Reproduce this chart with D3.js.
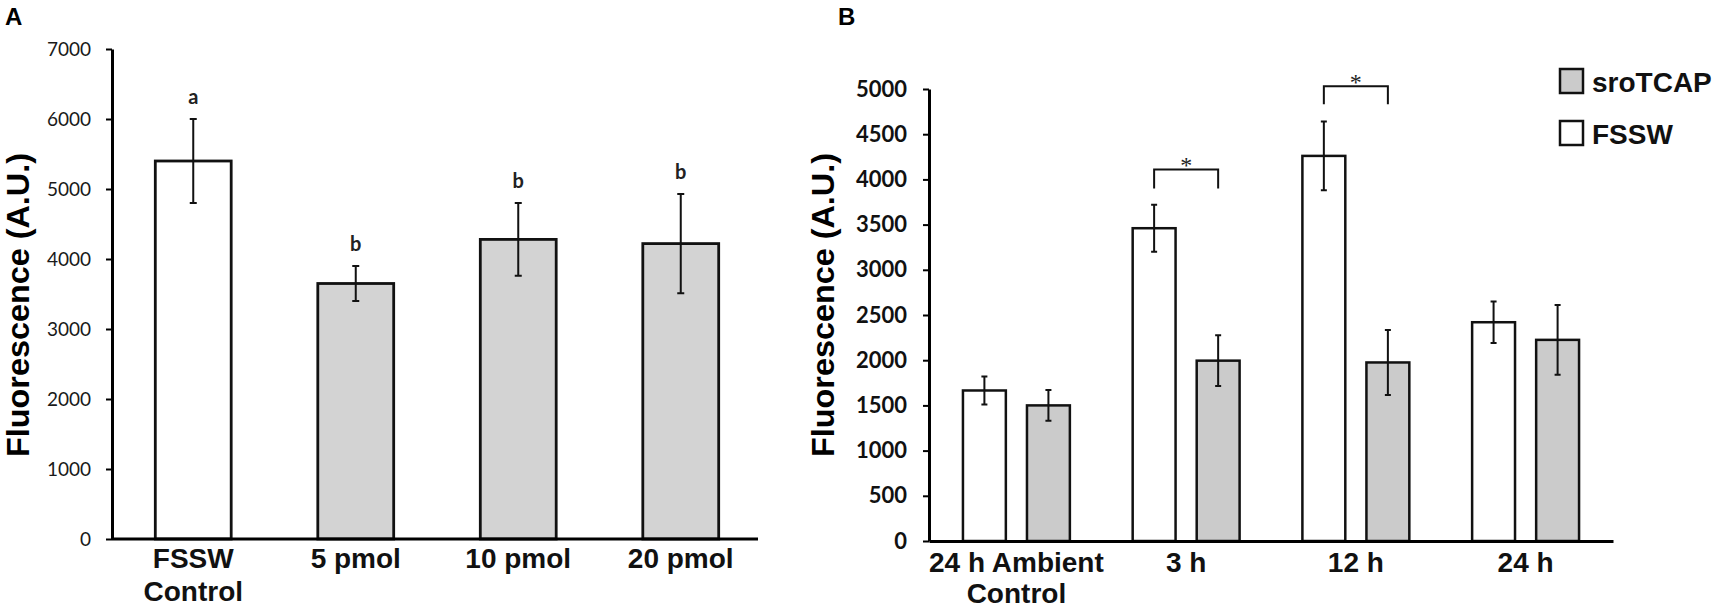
<!DOCTYPE html>
<html>
<head>
<meta charset="utf-8">
<script src="https://cdn.jsdelivr.net/npm/d3@7/dist/d3.min.js"></script>
<style>
    body { margin: 0; background: #fff; }
    svg { display: block; }
</style>
</head>
<body>
<div id="chart"></div>
<script>
// panel A - fluorescence by dose
const aCategories = ["FSSW\nControl", "5 pmol", "10 pmol", "20 pmol"];
const aValues = [5400, 3650, 4280, 4220];
const aErrors = [600, 250, 520, 710];
const aLetters = ["a", "b", "b", "b"];
const aTicks = [0, 1000, 2000, 3000, 4000, 5000, 6000, 7000];

// panel B - time course
const bGroups = ["24 h Ambient\nControl", "3 h", "12 h", "24 h"];
const bSeries = ["FSSW", "sroTCAP"];
const bFSSW = [1665, 3460, 4260, 2420];
const bFSSWErr = [155, 260, 380, 230];
const bSroTCAP = [1500, 1995, 1975, 2225];
const bSroTCAPErr = [170, 280, 360, 385];
const bTicks = [0, 500, 1000, 1500, 2000, 2500, 3000, 3500, 4000, 4500, 5000];
const sigGroups = ["3 h", "12 h"];
const sigTop = [4110, 5030];
const sigLeg = [3900, 4830];
const legendLabels = ["sroTCAP", "FSSW"];

const WIDTH = 1716;
const HEIGHT = 607;
const ARIAL = "'Liberation Sans', Arial, sans-serif";
const CALIBRI = "Lato, 'Open Sans', sans-serif";
const GREY_A = "#d3d3d3";
const GREY_B = "#cbcbcb";

const svg = d3.select("#chart").append("svg")
    .attr("width", WIDTH)
    .attr("height", HEIGHT);

function multiline(sel, lineGap) {
    sel.each(function (d) {
        let t = d3.select(this);
        let lines = d.split("\n");
        t.text(null);
        lines.forEach((l, i) => {
            t.append("tspan")
                .attr("x", t.attr("x"))
                .attr("dy", i === 0 ? 0 : lineGap)
                .text(l);
        });
    });
}

function yTitle(x, cy) {
    svg.append("text")
        .attr("transform", "translate(" + x + "," + cy + ") rotate(-90)")
        .attr("text-anchor", "middle")
        .attr("font-family", ARIAL)
        .attr("font-weight", "bold")
        .attr("font-size", 32)
        .attr("textLength", 304)
        .attr("lengthAdjust", "spacingAndGlyphs")
        .text("Fluorescence (A.U.)");
}

function errorBars(g, data, cap) {
    g.selectAll(".err")
        .data(data)
        .enter().append("path")
        .attr("class", "err")
        .attr("fill", "none")
        .attr("stroke", "#111")
        .attr("stroke-width", 2)
        .attr("d", d => "M" + (d.x - cap) + "," + d.y0 + "H" + (d.x + cap) +
            "M" + d.x + "," + d.y0 + "V" + d.y1 +
            "M" + (d.x - cap) + "," + d.y1 + "H" + (d.x + cap));
}

// ---------- A ----------
const xA = d3.scaleBand()
    .domain(aCategories)
    .range([112, 762])
    .paddingInner(0.533)
    .paddingOuter(0.2665);

const yA = d3.scaleLinear()
    .domain([0, 7000])
    .range([539, 49]);

svg.append("text")
    .attr("x", 5).attr("y", 25)
    .attr("font-family", ARIAL)
    .attr("font-weight", "bold")
    .attr("font-size", 24)
    .text("A");

const gA = svg.append("g");

gA.selectAll(".bar")
    .data(aValues)
    .enter().append("rect")
    .attr("class", "bar")
    .attr("x", (d, i) => xA(aCategories[i]))
    .attr("y", d => yA(d))
    .attr("width", xA.bandwidth())
    .attr("height", d => yA(0) - yA(d))
    .attr("fill", (d, i) => i === 0 ? "#fff" : GREY_A)
    .attr("stroke", "#111")
    .attr("stroke-width", 2.8);

errorBars(gA, aValues.map((v, i) => ({
    x: xA(aCategories[i]) + xA.bandwidth() / 2,
    y0: yA(v + aErrors[i]),
    y1: yA(v - aErrors[i])
})), 3.5);

gA.selectAll(".letter")
    .data(aLetters)
    .enter().append("text")
    .attr("class", "letter")
    .attr("x", (d, i) => xA(aCategories[i]) + xA.bandwidth() / 2)
    .attr("y", (d, i) => yA(aValues[i] + aErrors[i]) - 15)
    .attr("text-anchor", "middle")
    .attr("font-family", CALIBRI)
    .attr("font-weight", "bold")
    .attr("font-size", 20)
    .attr("fill", "#222")
    .text(d => d);

let axA = gA.append("g")
    .attr("transform", "translate(112,0)")
    .call(d3.axisLeft(yA).tickValues(aTicks).tickSize(6).tickSizeOuter(0).tickPadding(15).tickFormat(d3.format("d")));
axA.select(".domain").attr("stroke-width", 3);
axA.selectAll(".tick line").attr("stroke-width", 2);
axA.selectAll(".tick text")
    .attr("font-family", CALIBRI)
    .attr("font-size", 19)
    .attr("fill", "#1a1a1a");

let axAx = gA.append("g")
    .attr("transform", "translate(0,539)")
    .call(d3.axisBottom(xA).tickSize(0).tickSizeOuter(0).tickPadding(0));
axAx.select(".domain").attr("stroke-width", 3).attr("d", "M112,0H758");
axAx.selectAll(".tick text")
    .attr("y", 29)
    .attr("dy", 0)
    .attr("x", 0)
    .attr("font-family", ARIAL)
    .attr("font-weight", "bold")
    .attr("font-size", 28)
    .attr("fill", "#111")
    .call(multiline, 33);

yTitle(29, 305);

// ---------- B ----------
const x0 = d3.scaleBand()
    .domain(bGroups)
    .range([929, 1613])
    .paddingInner(0.37)
    .paddingOuter(0.2);

const x1 = d3.scaleBand()
    .domain(bSeries)
    .range([0, x0.bandwidth()])
    .paddingInner(0.33);

const yB = d3.scaleLinear()
    .domain([0, 5000])
    .range([541, 89]);

const bFill = d3.scaleOrdinal().domain(bSeries).range(["#fff", GREY_B]);

svg.append("text")
    .attr("x", 838).attr("y", 25)
    .attr("font-family", ARIAL)
    .attr("font-weight", "bold")
    .attr("font-size", 24)
    .text("B");

const gB = svg.append("g");

let rows = [];
bGroups.forEach((g, i) => {
    rows.push({ group: g, key: "FSSW", value: bFSSW[i], err: bFSSWErr[i] });
    rows.push({ group: g, key: "sroTCAP", value: bSroTCAP[i], err: bSroTCAPErr[i] });
});

gB.selectAll(".bar")
    .data(rows)
    .enter().append("rect")
    .attr("class", "bar")
    .attr("x", d => x0(d.group) + x1(d.key))
    .attr("y", d => yB(d.value))
    .attr("width", x1.bandwidth())
    .attr("height", d => yB(0) - yB(d.value))
    .attr("fill", d => bFill(d.key))
    .attr("stroke", "#111")
    .attr("stroke-width", 2.5);

errorBars(gB, rows.map(d => ({
    x: x0(d.group) + x1(d.key) + x1.bandwidth() / 2,
    y0: yB(d.value + d.err),
    y1: yB(d.value - d.err)
})), 3);

// significance brackets
sigGroups.forEach((g, i) => {
    let xa = x0(g) + x1("FSSW") + x1.bandwidth() / 2;
    let xb = x0(g) + x1("sroTCAP") + x1.bandwidth() / 2;
    gB.append("path")
        .attr("fill", "none")
        .attr("stroke", "#111")
        .attr("stroke-width", 2)
        .attr("d", "M" + xa + "," + yB(sigLeg[i]) + "V" + yB(sigTop[i]) + "H" + xb + "V" + yB(sigLeg[i]));
    gB.append("text")
        .attr("x", (xa + xb) / 2)
        .attr("y", yB(sigTop[i]) + 4)
        .attr("text-anchor", "middle")
        .attr("font-family", "'Liberation Serif', 'Times New Roman', serif")
        .attr("font-size", 24)
        .attr("fill", "#222")
        .text("*");
});

let axB = gB.append("g")
    .attr("transform", "translate(929,0)")
    .call(d3.axisLeft(yB).tickValues(bTicks).tickSize(6).tickSizeOuter(0).tickPadding(16).tickFormat(d3.format("d")));
axB.select(".domain").attr("stroke-width", 3);
axB.selectAll(".tick line").attr("stroke-width", 2);
axB.selectAll(".tick text")
    .attr("font-family", CALIBRI)
    .attr("font-weight", "bold")
    .attr("font-size", 22)
    .attr("fill", "#111");

let axBx = gB.append("g")
    .attr("transform", "translate(0,541)")
    .call(d3.axisBottom(x0).tickSize(0).tickSizeOuter(0).tickPadding(0));
axBx.select(".domain").attr("stroke-width", 3);
axBx.selectAll(".tick text")
    .attr("y", 31)
    .attr("dy", 0)
    .attr("x", 0)
    .attr("font-family", ARIAL)
    .attr("font-weight", "bold")
    .attr("font-size", 28)
    .attr("fill", "#111")
    .call(multiline, 31);

yTitle(834, 305);

// legend
const legend = svg.append("g")
    .attr("transform", "translate(1559,68)");

let item = legend.selectAll(".item")
    .data(legendLabels)
    .enter().append("g")
    .attr("class", "item")
    .attr("transform", (d, i) => "translate(0," + (i * 52) + ")");

item.append("rect")
    .attr("x", 1).attr("y", 1)
    .attr("width", 23).attr("height", 24)
    .attr("fill", d => bFill(d))
    .attr("stroke", "#111")
    .attr("stroke-width", 2.5);

item.append("text")
    .attr("x", 33)
    .attr("y", 24)
    .attr("font-family", ARIAL)
    .attr("font-weight", "bold")
    .attr("font-size", 28)
    .attr("fill", "#111")
    .text(d => d);
</script>
</body>
</html>
